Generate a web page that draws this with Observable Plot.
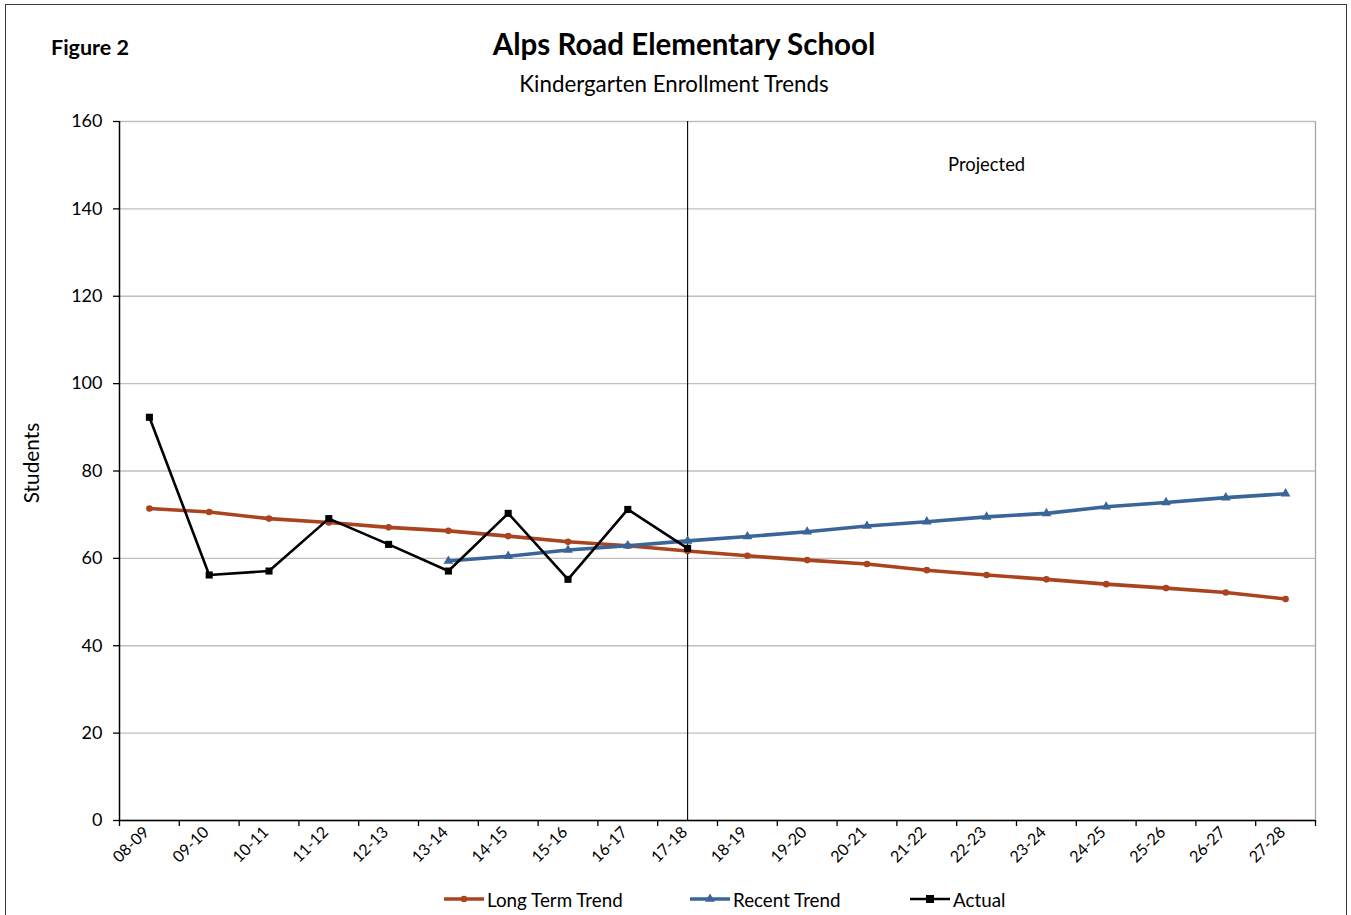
<!DOCTYPE html>
<html>
<head>
<meta charset="utf-8">
<script src="https://cdn.jsdelivr.net/npm/d3@7"></script>
<script src="https://cdn.jsdelivr.net/npm/@observablehq/plot@0.6"></script>
<style>
  body { margin: 0; background: #fff; font-family: Lato, "Open Sans", sans-serif; color: #000; }
  #wrap { position: relative; width: 1351px; height: 915px; overflow: hidden; background: #fff; }
  #frame { position: absolute; left: 5px; top: 4px; width: 1342px; height: 960px; border: 1.5px solid #3a3a3a; box-sizing: border-box; pointer-events: none; }
  #header { position: relative; height: 105px; }
  .fig { position: absolute; left: 51px; top: 37px; font-size: 21.5px; font-weight: 700; line-height: 1; }
  .title { position: absolute; left: 684px; top: 29px; transform: translateX(-50%); font-size: 29.5px; font-weight: 700; line-height: 1; white-space: nowrap; }
  .subtitle { position: absolute; left: 674px; top: 73px; transform: translateX(-50%); font-size: 22.3px; line-height: 1; white-space: nowrap; }
  #chart { position: relative; height: 775px; }
  #legend { position: relative; height: 35px; font-size: 18.8px; }
  .item { position: absolute; top: 8px; height: 22px; display: flex; align-items: center; white-space: nowrap; }
  .item svg { margin-right: 3px; }
</style>
</head>
<body>
<div id="wrap">
  <div id="header">
    <div class="fig">Figure 2</div>
    <div class="title">Alps Road Elementary School</div>
    <div class="subtitle">Kindergarten Enrollment Trends</div>
  </div>
  <div id="chart"></div>
  <div id="legend"></div>
  <div id="frame"></div>
</div>
<script>
// ---- Data ----
const years = ["08-09","09-10","10-11","11-12","12-13","13-14","14-15","15-16","16-17","17-18",
               "18-19","19-20","20-21","21-22","22-23","23-24","24-25","25-26","26-27","27-28"];
const longTermTrend = [71.4, 70.6, 69.1, 68.2, 67.1, 66.3, 65.1, 63.8, 62.9, 61.7,
                       60.6, 59.6, 58.7, 57.3, 56.2, 55.2, 54.1, 53.2, 52.2, 50.7];
const recentTrendStart = "13-14";
const recentTrend = [59.4, 60.5, 61.9, 62.9, 64.0, 65.0, 66.1, 67.4, 68.4, 69.5,
                     70.3, 71.8, 72.8, 73.9, 74.8];
const actual = [92.3, 56.2, 57.1, 69.1, 63.2, 57.1, 70.3, 55.2, 71.2, 62.3];
const yTicks = [0, 20, 40, 60, 80, 100, 120, 140, 160];
const projectedStart = "17-18";
const projectedLabelAt = "22-23";
const seriesNames = ["Long Term Trend", "Recent Trend", "Actual"];
const colors = { "Long Term Trend": "#A9441F", "Recent Trend": "#3A6598", "Actual": "#000000" };

// ---- Tables ----
const pos = (yr) => years.indexOf(yr) + 0.5;
const ltData = longTermTrend.map((v, i) => ({ x: i + 0.5, v }));
const rs = years.indexOf(recentTrendStart);
const rtData = recentTrend.map((v, i) => ({ x: rs + i + 0.5, v }));
const acData = actual.map((v, i) => ({ x: i + 0.5, v }));

const plot = Plot.plot({
  width: 1351,
  height: 775,
  marginLeft: 119,
  marginRight: 36,
  marginTop: 16,
  marginBottom: 60,
  style: { fontFamily: "Lato, 'Open Sans', sans-serif", fontSize: "16px", background: "transparent", color: "#000", overflow: "visible" },
  x: { type: "linear", domain: [0, years.length] },
  y: { domain: [0, 160] },
  marks: [
    Plot.gridY(yTicks, { stroke: "#BFBFBF", strokeOpacity: 1, strokeWidth: 1.3 }),
    Plot.ruleX([years.length], { stroke: "#A6A6A6", strokeWidth: 1.3 }),
    Plot.ruleX([pos(projectedStart)], { stroke: "#000", strokeWidth: 1.1 }),
    Plot.ruleX([0], { stroke: "#000", strokeWidth: 1.5 }),
    Plot.ruleY([0], { stroke: "#000", strokeWidth: 1.5 }),
    Plot.axisY({ ticks: yTicks, tickSize: 6, tickPadding: 11, fontSize: 18, label: null, strokeWidth: 1.3 }),
    Plot.axisX({ ticks: d3.range(years.length + 1), tickSize: 6, tickFormat: () => "", label: null, strokeWidth: 1.3 }),
    Plot.axisX({ ticks: years.map((d, i) => i + 0.5), tickSize: 0, tickPadding: 9, tickRotate: -45, dx: -3,
                 tickFormat: (v) => years[Math.round(v - 0.5)], fontSize: 16, label: null }),
    Plot.line(ltData, { x: "x", y: "v", stroke: colors["Long Term Trend"], strokeWidth: 3.6 }),
    Plot.dot(ltData, { x: "x", y: "v", symbol: "circle", r: 3.3, fill: colors["Long Term Trend"] }),
    Plot.line(rtData, { x: "x", y: "v", stroke: colors["Recent Trend"], strokeWidth: 3.6 }),
    Plot.dot(rtData, { x: "x", y: "v", symbol: "triangle", r: 3.6, fill: colors["Recent Trend"] }),
    Plot.line(acData, { x: "x", y: "v", stroke: colors["Actual"], strokeWidth: 2.6 }),
    Plot.dot(acData, { x: "x", y: "v", symbol: "square", r: 4, fill: colors["Actual"] }),
    Plot.text(["Projected"], { x: pos(projectedLabelAt), y: 150, fontSize: 18.4 }),
    Plot.text(["Students"], { frameAnchor: "left", dx: -87, dy: -8, rotate: -90, textAnchor: "middle", fontSize: 20.8 })
  ]
});
document.getElementById("chart").appendChild(plot);

// ---- Legend ----
const legend = document.getElementById("legend");
const legendLeft = { "Long Term Trend": 444, "Recent Trend": 690, "Actual": 910 };
const legendSym = { "Long Term Trend": "circle", "Recent Trend": "triangle", "Actual": "square" };
const legendWidth = { "Long Term Trend": 3.6, "Recent Trend": 3.6, "Actual": 2.6 };
for (const name of seriesNames) {
  const item = document.createElement("div");
  item.className = "item";
  item.style.left = legendLeft[name] + "px";
  const c = colors[name];
  let marker = "";
  if (legendSym[name] === "circle") marker = `<circle cx="20" cy="11" r="3.3" fill="${c}"/>`;
  else if (legendSym[name] === "triangle") marker = `<path d="${d3.symbol(d3.symbolTriangle, Math.PI * 3.6 * 3.6)()}" transform="translate(20,11)" fill="${c}"/>`;
  else marker = `<rect x="16" y="7" width="8" height="8" fill="${c}"/>`;
  item.innerHTML = `<svg width="40" height="22"><line x1="0" x2="40" y1="11" y2="11" stroke="${c}" stroke-width="${legendWidth[name]}"/>${marker}</svg><span>${name}</span>`;
  legend.appendChild(item);
}
</script>
</body>
</html>
